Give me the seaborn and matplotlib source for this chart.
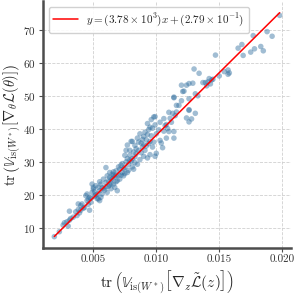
import matplotlib
matplotlib.use("Agg")
import matplotlib.pyplot as plt
import numpy as np
import pandas as pd
import seaborn as sns

# ---- data ----
x_vals = [
    0.0019, 0.0023, 0.0026, 0.0027, 0.0029, 0.0030, 0.0031, 0.0032, 0.0031, 0.0034,
    0.0036, 0.0037, 0.0038, 0.0038, 0.0039, 0.0040, 0.0040, 0.0041, 0.0042, 0.0043,
    0.0044, 0.0045, 0.0045, 0.0046, 0.0047, 0.0047, 0.0048, 0.0049, 0.0049, 0.0050,
    0.0050, 0.0051, 0.0052, 0.0053, 0.0053, 0.0054, 0.0054, 0.0055, 0.0055, 0.0055,
    0.0046, 0.0048, 0.0051, 0.0052,
    0.0056, 0.0056, 0.0057, 0.0058, 0.0058, 0.0059, 0.0060, 0.0060, 0.0061, 0.0061,
    0.0062, 0.0062, 0.0063, 0.0063, 0.0064, 0.0064, 0.0065, 0.0065, 0.0066, 0.0066,
    0.0067, 0.0067, 0.0068, 0.0068, 0.0069, 0.0069, 0.0070, 0.0070, 0.0063, 0.0066,
    0.0060, 0.0057, 0.0068, 0.0064,
    0.0071, 0.0071, 0.0072, 0.0073, 0.0073, 0.0074, 0.0074, 0.0075, 0.0075, 0.0076,
    0.0077, 0.0077, 0.0078, 0.0078, 0.0079, 0.0079, 0.0080, 0.0080, 0.0081, 0.0081,
    0.0082, 0.0082, 0.0083, 0.0083, 0.0084, 0.0084, 0.0085, 0.0085, 0.0077, 0.0076,
    0.0081, 0.0083, 0.0072, 0.0075, 0.0079,
    0.0086, 0.0087, 0.0087, 0.0088, 0.0088, 0.0089, 0.0090, 0.0090, 0.0091, 0.0092,
    0.0092, 0.0093, 0.0093, 0.0093, 0.0094, 0.0095, 0.0095, 0.0096, 0.0096, 0.0097,
    0.0097, 0.0098, 0.0098, 0.0099, 0.0099, 0.0099, 0.0100, 0.0100, 0.0089, 0.0091,
    0.0094, 0.0086, 0.0095, 0.0090,
    0.0102, 0.0103, 0.0104, 0.0105, 0.0106, 0.0106, 0.0107, 0.0108, 0.0108, 0.0109,
    0.0110, 0.0111, 0.0112, 0.0113, 0.0114, 0.0114, 0.0114, 0.0114, 0.0115, 0.0103,
    0.0110,
    0.0116, 0.0116, 0.0118, 0.0120, 0.0121, 0.0122, 0.0124, 0.0124, 0.0126, 0.0126,
    0.0126, 0.0126, 0.0126, 0.0128, 0.0129, 0.0130, 0.0131, 0.0131, 0.0134, 0.0120,
    0.0133,
    0.0137, 0.0139, 0.0141, 0.0143, 0.0144, 0.0145, 0.0147, 0.0150, 0.0154, 0.0157,
    0.0158, 0.0157, 0.0140, 0.0142,
    0.0165, 0.0168, 0.0169, 0.0175, 0.0177, 0.0178, 0.0183, 0.0185, 0.0188, 0.0192,
    0.0198,
]
y_vals = [
    7.4, 8.9, 10.9, 11.6, 11.9, 10.6, 12.4, 12.9, 15.1, 13.3,
    14.9, 13.8, 15.6, 17.3, 14.6, 16.8, 15.4, 17.3, 16.0, 16.2,
    19.8, 18.3, 20.3, 18.8, 19.3, 15.4, 17.8, 20.8, 23.3, 22.3,
    21.8, 19.6, 22.8, 20.3, 18.9, 22.3, 18.8, 18.3, 21.3, 24.0,
    17.2, 19.0, 21.0, 20.0,
    19.3, 23.3, 20.3, 24.8, 22.0, 21.5, 23.8, 28.3, 20.8, 25.8,
    22.6, 24.2, 25.3, 23.0, 21.9, 24.6, 26.3, 25.0, 23.3, 27.0,
    22.3, 25.5, 24.0, 27.3, 24.3, 21.3, 26.0, 28.5, 26.8, 26.0,
    22.5, 22.2, 25.9, 23.5,
    24.8, 27.8, 26.0, 26.8, 29.5, 25.8, 28.0, 28.3, 26.5, 30.0,
    26.8, 31.0, 29.3, 27.5, 30.5, 32.0, 30.2, 36.2, 31.0, 28.5,
    27.8, 33.0, 31.5, 29.8, 34.0, 32.5, 29.3, 37.2, 35.1, 33.5,
    36.2, 35.0, 29.0, 32.0, 33.5,
    33.5, 30.7, 38.5, 35.7, 32.8, 34.5, 31.7, 37.7, 33.5, 36.7,
    34.8, 31.2, 41.6, 38.3, 35.5, 36.2, 32.2, 37.9, 42.8, 40.2,
    34.5, 43.6, 36.0, 43.7, 31.7, 41.2, 32.6, 38.5, 36.8, 39.0,
    39.8, 36.0, 40.5, 35.2,
    39.7, 36.5, 35.7, 34.3, 39.3, 43.1, 41.0, 41.3, 37.2, 40.1,
    39.2, 43.2, 42.0, 44.7, 39.2, 37.2, 49.6, 49.4, 44.0, 42.0,
    45.0,
    45.1, 47.1, 47.1, 53.2, 51.3, 51.4, 43.3, 53.2, 42.1, 45.6,
    45.8, 49.1, 53.7, 43.0, 53.8, 58.1, 44.7, 50.6, 56.8, 48.5,
    50.0,
    54.0, 54.0, 54.2, 53.6, 54.8, 55.0, 62.3, 56.0, 57.3, 57.8,
    56.9, 56.5, 53.0, 55.2,
    64.4, 65.5, 62.2, 63.2, 68.2, 64.2, 64.9, 63.6, 69.4, 68.0,
    74.3,
]
# fitted line coefficients as printed in the legend
slope = 3.78e3
intercept = 2.79e-1

df = pd.DataFrame({"x": x_vals, "y": y_vals})

# ---- style ----
sns.set_style("whitegrid", {"grid.linestyle": "--", "grid.color": "#d0d0d0",
                            "axes.edgecolor": "#4d4d4d"})
plt.rcParams["font.family"] = "serif"
plt.rcParams["font.serif"] = ["cmr10", "DejaVu Serif"]
plt.rcParams["mathtext.fontset"] = "cm"
plt.rcParams["axes.formatter.use_mathtext"] = True

fig, ax = plt.subplots(figsize=(2.99, 2.99), dpi=100)
fig.subplots_adjust(left=0.144, right=0.973, bottom=0.171, top=0.995)

sns.scatterplot(data=df, x="x", y="y", ax=ax, color="#2f6e9e", alpha=0.45,
                s=16, edgecolor="none", zorder=2)

xl = np.array([min(x_vals), max(x_vals)])
ax.plot(xl, slope * xl + intercept, color="red", lw=1.1, zorder=3,
        label=r"$y = (3.78 \times 10^{3})x + (2.79 \times 10^{-1})$")

ax.set_xticks([0.005, 0.010, 0.015, 0.020])
ax.set_xticklabels(["0.005", "0.010", "0.015", "0.020"])
ax.set_yticks([10, 20, 30, 40, 50, 60, 70])
ax.tick_params(labelsize=8, length=3, width=0.8, colors="#4d4d4d",
               labelcolor="#333333", bottom=True, left=True, pad=2)
ax.grid(lw=0.6)

ax.set_xlabel(r"$\mathrm{tr}\,\left(\mathbb{V}_{\mathrm{is}(W^*)}\left[\nabla_z\tilde{\mathcal{L}}(z)\right]\right)$",
              fontsize=11, labelpad=3)
ax.set_ylabel(r"$\mathrm{tr}\,\left(\mathbb{V}_{\mathrm{is}(W^*)}\left[\nabla_\theta\mathcal{L}(\theta)\right]\right)$",
              fontsize=10.5, labelpad=0)

for s in ["left", "bottom"]:
    ax.spines[s].set_linewidth(1.8)
sns.despine(ax=ax)

ax.legend(loc="upper left", fontsize=8, frameon=True, handlelength=2.2,
          borderpad=0.4, framealpha=0.9, edgecolor="#cccccc")

fig.savefig("out.png", dpi=100)
